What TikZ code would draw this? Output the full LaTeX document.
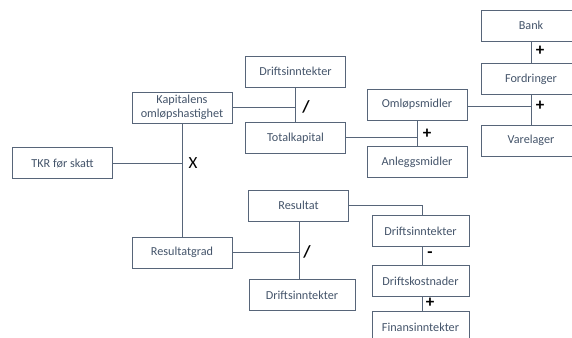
\documentclass[tikz,border=0pt]{standalone}
\usepackage{fontspec}
\setmainfont{Carlito}
\usepackage{tikz}
\usetikzlibrary{positioning,calc}
\definecolor{slate}{HTML}{44546A}
\tikzset{block/.style={draw=slate!90,line width=0.9pt,text=slate,font=\fontsize{12.2}{13.5}\selectfont,minimum width=100pt,minimum height=31pt,align=center,inner sep=1pt},
         line/.style={draw=slate!90,line width=0.9pt},
         op/.style={font=\fontsize{17}{17}\selectfont,text=black}
}

\begin{document}
\begin{tikzpicture}[x=1pt,y=-1pt]
  \useasboundingbox (0,0) rectangle (572,337);
  \clip (0,0) rectangle (572,337);
  \node[block] (tkr) at (62.5,163) {TKR før skatt};
  \node[block] (kap) at (182,107.5) {Kapitalens\\omløpshastighet};
  \node[block] (resgrad) at (182,252.5) {Resultatgrad};
  \node[block] (drift1) at (295.5,71.5) {Driftsinntekter};
  \node[block] (totkap) at (295.5,138) {Totalkapital};
  \node[block] (oml) at (417,104.5) {Omløpsmidler};
  \node[block] (anl) at (417,162) {Anleggsmidler};
  \node[block] (bank) at (531,25.5) {Bank};
  \node[block] (ford) at (531,79) {Fordringer};
  \node[block] (vare) at (531,140.5) {Varelager};
  \node[block] (resultat) at (298.5,205.5) {Resultat};
  \node[block,minimum width=106pt] (drift2) at (302,295) {Driftsinntekter};
  \node[block,minimum width=97pt] (drift3) at (420.5,231) {Driftsinntekter};
  \node[block,minimum width=97pt] (kost) at (420.5,281) {Driftskostnader};
  \node[block,minimum width=97pt] (finans) at (420.5,327) {Finansinntekter};
  % junctions
  \coordinate (j1) at (182,163);
  \coordinate (j2) at (295.5,107);
  \coordinate (j3) at (417,137);
  \coordinate (j4) at (531,106);
  \coordinate (j5) at (299,252.5);
  \draw[line] (kap) -- (resgrad);
  \draw[line] (tkr) -- (j1);
  \draw[line] (drift1) -- (totkap);
  \draw[line] (kap.east |- j2) -- (j2);
  \draw[line] (oml) -- (anl);
  \draw[line] (totkap.east |- j3) -- (j3);
  \draw[line] (bank) -- (ford);
  \draw[line] (ford) -- (vare);
  \draw[line] (oml.east |- j4) -- (j4);
  \draw[line] (resultat.south -| j5) -- (drift2.north -| j5);
  \draw[line] (resgrad) -- (j5);
  \draw[line] (resultat.east) -| (drift3.north -| 422,0);
  \draw[line] (drift3.south -| 422,0) -- (kost.north -| 422,0);
  \draw[line] (kost.south -| 422,0) -- (finans.north -| 422,0);
  % operators
  \node[op] (ox) at (193,163) {X};
  \node[op] (odiv1) at (306,107) {\textbf{/}};
  \node[op] (oplus1) at (427,134) {\textbf{+}};
  \node[op] (oplus2) at (540,51) {\textbf{+}};
  \node[op] (oplus3) at (540,106) {\textbf{+}};
  \node[op] (odiv2) at (307,252) {\textbf{/}};
  \node[op] (ominus) at (430,255) {\textbf{-}};
  \node[op] (oplus4) at (430,303) {\textbf{+}};
\end{tikzpicture}
\end{document}
